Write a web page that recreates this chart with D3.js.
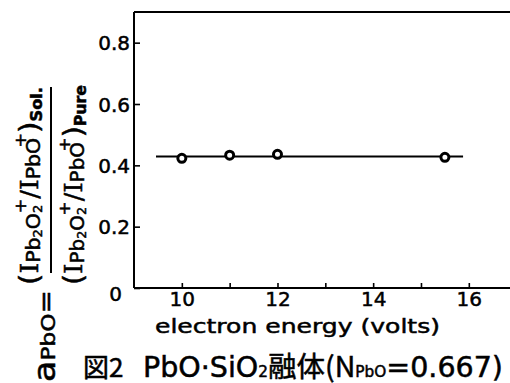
<!DOCTYPE html>
<html>
<head>
<meta charset="utf-8">
<script src="https://cdn.jsdelivr.net/npm/d3@7"></script>
<style>
  body { margin: 0; background: white; }
  svg { display: block; }
  text { stroke: #000; stroke-width: 0.5px; }
</style>
</head>
<body>
<svg id="chart"></svg>
<script>
// measured points (electron energy in volts, activity of PbO)
var energy = [10, 11, 12, 15.5];
var activity = [0.423, 0.433, 0.436, 0.426];
// hand drawn mean line
var fitEnergy = [9.46, 15.88];
var fitActivity = [0.429, 0.429];

var xTicks = [10, 11, 12, 13, 14, 15, 16];
var xLabels = [10, 12, 14, 16];
var yTicks = [0, 0.2, 0.4, 0.6, 0.8];

var W = 510, H = 383;
var padLeft = 134, padTop = 12, axisY = 288;

var svg = d3.select("#chart")
    .attr("width", W)
    .attr("height", H)
    .style("font-family", "DejaVu Sans");

var x = d3.scaleLinear().domain([9, 17]).range([padLeft, padLeft + 8 * 47.83]);
var y = d3.scaleLinear().domain([0, 0.9]).range([axisY, padTop]);

// frame: left axis, bottom axis and the top line
svg.append("line")
    .attr("x1", padLeft).attr("x2", W).attr("y1", y(0.9)).attr("y2", y(0.9))
    .attr("stroke", "#000").attr("stroke-width", 2);

var xAxis = svg.append("g")
    .attr("transform", "translate(0," + axisY + ")")
    .call(d3.axisBottom(x).tickValues(xTicks).tickSizeInner(-5).tickSizeOuter(0)
        .tickFormat(function(d) { return xLabels.indexOf(d) >= 0 ? d : ""; }));
xAxis.select(".domain").attr("d", "M" + padLeft + ",0H" + W).attr("stroke-width", 2);
xAxis.selectAll(".tick line").attr("stroke-width", 1.6);
xAxis.selectAll(".tick text")
    .attr("y", 18).attr("dy", 0)
    .style("font-size", "20px").style("font-family", "DejaVu Sans").attr("fill", "#000");

var yAxis = svg.append("g")
    .attr("transform", "translate(" + padLeft + ",0)")
    .call(d3.axisLeft(y).tickValues(yTicks).tickSizeInner(-6).tickSizeOuter(0)
        .tickFormat(function(d) { return d === 0 ? "0" : d.toFixed(1); }));
yAxis.select(".domain").attr("d", "M0," + axisY + "V" + padTop).attr("stroke-width", 2);
yAxis.selectAll(".tick line").attr("stroke-width", 1.6);
yAxis.selectAll(".tick text")
    .attr("x", function(d) { return d === 0 ? -12 : -4; })
    .attr("dy", function(d) { return d === 0 ? "0.6em" : "0.36em"; })
    .style("font-size", "20px").style("font-family", "DejaVu Sans").attr("fill", "#000");

// mean line and points
svg.append("path")
    .datum(d3.zip(fitEnergy, fitActivity))
    .attr("d", d3.line().x(function(d) { return x(d[0]); }).y(function(d) { return y(d[1]); }))
    .attr("fill", "none").attr("stroke", "#000").attr("stroke-width", 2);

svg.selectAll("circle.pt")
    .data(d3.zip(energy, activity))
    .enter().append("circle")
    .attr("class", "pt")
    .attr("cx", function(d) { return x(d[0]); })
    .attr("cy", function(d) { return y(d[1]); })
    .attr("r", 4)
    .attr("fill", "#fff").attr("stroke", "#000").attr("stroke-width", 3);

// x label
svg.append("text")
    .attr("x", 155).attr("y", 333)
    .style("font-size", "20px")
    .attr("textLength", 285).attr("lengthAdjust", "spacingAndGlyphs")
    .text("electron energy (volts)");

// caption
svg.append("text")
    .attr("x", 83).attr("y", 377)
    .style("font-family", "Noto Sans CJK JP").style("font-size", "26px")
    .text("図2");

var cap = svg.append("text")
    .attr("x", 143).attr("y", 377)
    .style("font-size", "28px")
    .style("font-family", "DejaVu Sans, Noto Sans CJK JP")
    .attr("textLength", 360).attr("lengthAdjust", "spacingAndGlyphs");
cap.append("tspan").text("PbO·SiO");
cap.append("tspan").style("font-size", "15px").text("2");
cap.append("tspan").style("font-family", "Noto Sans CJK JP").text("融体(N");
cap.append("tspan").style("font-size", "15px").text("PbO");
cap.append("tspan").text("=0.667)");

// rotated y label: a_PbO = (I/I)sol / (I/I)pure
function rich(g, u, v, parts, len) {
    var t = g.append("text").attr("x", u).attr("y", v);
    if (len) t.attr("textLength", len).attr("lengthAdjust", "spacingAndGlyphs");
    var prev = 0;
    parts.forEach(function(p) {
        var s = t.append("tspan")
            .attr("dy", (p.shift || 0) - prev)
            .style("font-size", p.size + "px")
            .text(p.t);
        if (p.dx) s.attr("dx", p.dx);
        if (p.serif) s.style("font-family", "DejaVu Serif");
        if (p.bold) s.style("font-weight", "bold");
        prev = p.shift || 0;
    });
    return t;
}

function ratio(tail) {
    return [
        {t: "(", size: 27},
        {t: "I", size: 25, serif: true},
        {t: "Pb", size: 19, shift: 2},
        {t: "2", size: 12, shift: 4},
        {t: "O", size: 19, shift: 2},
        {t: "2", size: 12, shift: 4},
        {t: "+", size: 16, shift: -12, dx: -8},
        {t: "/", size: 24},
        {t: "I", size: 25, serif: true},
        {t: "PbO", size: 19, shift: 2},
        {t: "+", size: 16, shift: -12, dx: -9},
        {t: ")", size: 27},
        {t: tail, size: 15, shift: 4, bold: true}
    ];
}

var yl = svg.append("g").attr("transform", "rotate(-90)");
rich(yl, -285, 38, ratio("Sol."), 198);
rich(yl, -285, 82, ratio("Pure"), 200);
yl.append("line")
    .attr("x1", -273).attr("x2", -87).attr("y1", 51).attr("y2", 51)
    .attr("stroke", "#000").attr("stroke-width", 2);
rich(yl, -382, 55, [
    {t: "a", size: 30},
    {t: "PbO", size: 20},
    {t: "=", size: 24, shift: -1}
], 92);
</script>
</body>
</html>
